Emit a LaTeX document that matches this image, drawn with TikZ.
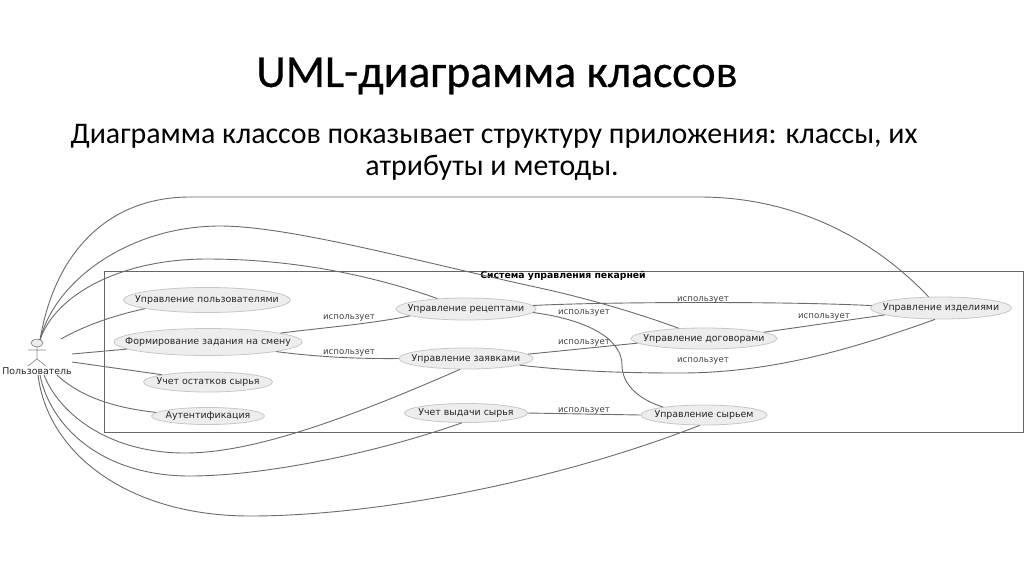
\documentclass[tikz,border=0pt]{standalone}
\usepackage{fontspec}
\setmainfont{DejaVu Sans}
\newfontfamily\titlefont{Carlito}
\newfontfamily\headfont[FakeBold=0.5]{Carlito}
\usetikzlibrary{shapes.geometric}
\definecolor{linecol}{gray}{0.42}
\newcommand{\uctext}[1]{\raisebox{-5.6pt}{\makebox[0pt][c]{\smash{#1}}}}
\tikzset{x=1pt,y=-1pt,
 usecase/.style={ellipse,draw=black!22,fill=black!7,line width=0.8pt,inner sep=0pt,font=\fontsize{9.4}{11}\selectfont,text=black!85},
 link/.style={draw=linecol,line width=0.9pt},
 uselabel/.style={font=\fontsize{8.6}{10}\selectfont,text=black!75,inner sep=0pt},
}
\begin{document}
\begin{tikzpicture}
\useasboundingbox[fill=white] (0,0) rectangle (1024,574);
\node (title) at (497,76) [font=\headfont\fontsize{45.8}{50}\selectfont,inner sep=0pt] {UML-диаграмма классов};
\node (subone) at (494,136) [font=\titlefont\fontsize{29.9}{34}\selectfont,inner sep=0pt] {Диаграмма классов показывает структуру приложения: классы, их};
\node (subtwo) at (492,168) [font=\titlefont\fontsize{29.9}{34}\selectfont,inner sep=0pt] {атрибуты и методы.};
% frame
\node (frame) at (563.5,351.5) [draw=black!60,line width=1pt,minimum width=919pt,minimum height=161pt,inner sep=0pt] {};
\node (frametitle) at (563,275.5) [font=\fontsize{9.3}{11}\selectfont\bfseries,inner sep=0pt] {Система управления пекарней};
% use cases
\node[usecase,minimum width=167pt,minimum height=25pt] (pol) at (207,300) {\uctext{Управление пользователями}};
\node[usecase,minimum width=188pt,minimum height=27pt] (form) at (208,342) {\uctext{Формирование задания на смену}};
\node[usecase,minimum width=129pt,minimum height=20pt] (ost) at (208,382) {\uctext{Учет остатков сырья}};
\node[usecase,minimum width=113pt,minimum height=17pt] (aut) at (208,416) {\uctext{Аутентификация}};
\node[usecase,minimum width=140pt,minimum height=22pt] (rec) at (466,309) {\uctext{Управление рецептами}};
\node[usecase,minimum width=134pt,minimum height=21pt] (zay) at (466,358.5) {\uctext{Управление заявками}};
\node[usecase,minimum width=123pt,minimum height=19pt] (vyd) at (466,413) {\uctext{Учет выдачи сырья}};
\node[usecase,minimum width=146pt,minimum height=21pt] (dog) at (704,338.5) {\uctext{Управление договорами}};
\node[usecase,minimum width=141pt,minimum height=22pt] (izd) at (941,308) {\uctext{Управление изделиями}};
\node[usecase,minimum width=126pt,minimum height=20pt] (syr) at (704,415) {\uctext{Управление сырьем}};
% actor
\node (head) at (37,343) [ellipse,draw=black!45,fill=black!7,line width=0.7pt,minimum width=12pt,minimum height=7.5pt,inner sep=0pt] {};
\coordinate (hip) at (37,359);
\coordinate (armL) at (28,350);
\coordinate (armR) at (46,350);
\coordinate (legL) at (28,366);
\coordinate (legR) at (46,366);
\draw[draw=black!45,line width=0.7pt] (head) -- (hip) (armL) -- (armR) (legL) -- (hip) -- (legR);
\node (actor) at (37,371) [font=\fontsize{9.4}{11}\selectfont,text=black!85,inner sep=0pt] {Пользователь};
\coordinate (aTop) at (40,340);
\coordinate (aPol) at (61,339);
\coordinate (aForm) at (72,354);
\coordinate (aOst) at (72,362);
\coordinate (aAut) at (57,375);
\coordinate (aA) at (44,375);
\coordinate (aB) at (40,375);
\coordinate (aC) at (38,375);
% actor links
\draw[link] (aTop) .. controls (55,250) and (110,197) .. (190,197) -- (700,197) .. controls (790,197) and (870,235) .. (izd.138);
\draw[link] (aTop) .. controls (55,280) and (130,226) .. (220,226) .. controls (290,226) and (420,262) .. (540,288) .. controls (590,299) and (640,314) .. (dog.158);
\draw[link] (aTop) .. controls (55,295) and (120,259) .. (207,259) .. controls (300,259) and (380,278) .. (rec.160);
\draw[link] (aPol) .. controls (80,328) and (110,316) .. (pol.188);
\draw[link] (aForm) -- (form.185);
\draw[link] (aOst) -- (ost.171.7);
\draw[link] (aAut) .. controls (75,392) and (105,407) .. (aut.176);
\draw[link] (aA) .. controls (60,415) and (110,453) .. (185,453) .. controls (250,453) and (340,422) .. (zay.241);
\draw[link] (aB) .. controls (50,425) and (100,476) .. (190,476) .. controls (260,476) and (370,455) .. (vyd.247);
\draw[link] (aC) .. controls (48,455) and (130,516) .. (250,516) .. controls (380,516) and (560,480) .. (syr.247);
% uses
\draw[link] (form.7) .. controls (320,328) and (370,324) .. (rec.187.4);
\draw[link] (form.352) .. controls (310,356) and (350,359) .. (zay.180);
\draw[link] (rec.3.4) .. controls (600,302) and (780,301) .. (izd.178);
\draw[link] (rec.357.5) .. controls (590,320) and (622,340) .. (622,365) .. controls (622,385) and (640,400) .. (syr.169);
\draw[link] (zay.4.4) -- (dog.184);
\draw[link] (dog.6.6) -- (izd.187.5);
\draw[link] (zay.353) .. controls (570,371) and (620,373) .. (680,373) .. controls (770,373) and (850,350) .. (izd.242);
\draw[link] (vyd.0) -- (syr.180);
% labels
\node[uselabel] (u1) at (349,318) {использует};
\node[uselabel] (u2) at (349,353) {использует};
\node[uselabel] (u3) at (584,313) {использует};
\node[uselabel] (u4) at (584,343) {использует};
\node[uselabel] (u5) at (703,300) {использует};
\node[uselabel] (u6) at (824,317) {использует};
\node[uselabel] (u7) at (703,361) {использует};
\node[uselabel] (u8) at (584,411) {использует};
\end{tikzpicture}
\end{document}
